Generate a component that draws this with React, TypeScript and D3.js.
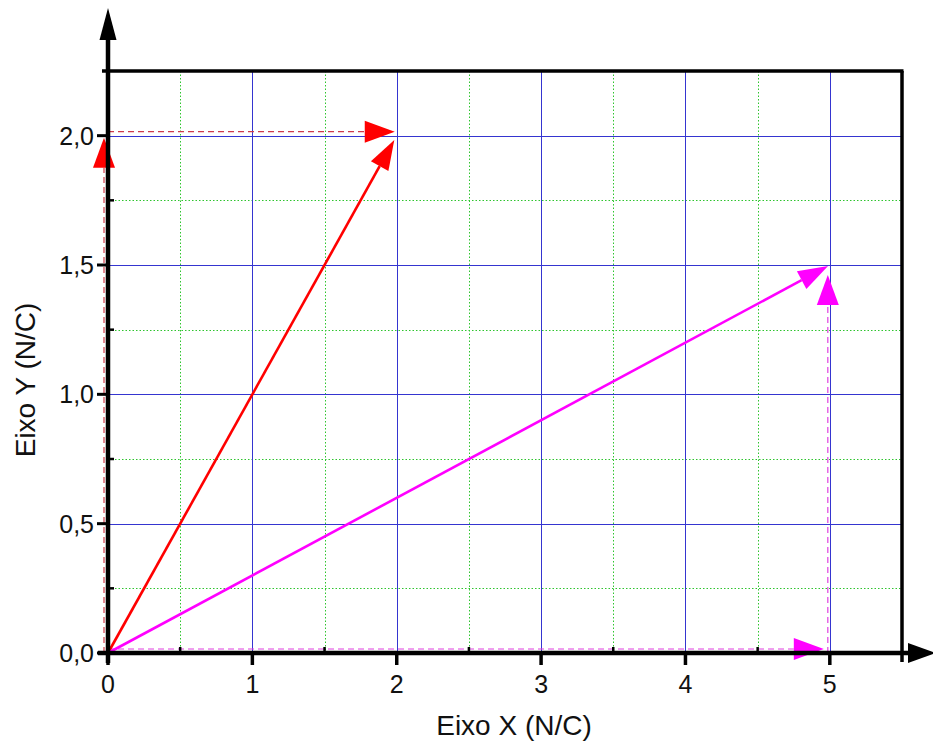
import React from 'react';
import * as d3 from 'd3';

// ---- data ----
const xDomain: [number, number] = [0, 5.5];
const yDomain: [number, number] = [0, 2.25];
const xMajorTicks = [0, 1, 2, 3, 4, 5];
const xTickLabels = ['0', '1', '2', '3', '4', '5'];
const yMajorTicks = [0, 0.5, 1.0, 1.5, 2.0];
const yTickLabels = ['0,0', '0,5', '1,0', '1,5', '2,0'];
const xMinorGrid = [0.5, 1.5, 2.5, 3.5, 4.5];
const yMinorGrid = [0.25, 0.75, 1.25, 1.75];
const xGridMajor = [1, 2, 3, 4, 5];
const yGridMajor = [0.5, 1.0, 1.5, 2.0];
const vectorColors = ['#ff0000', '#ff00ff'];
const vectorX = [2, 5];
const vectorY = [2, 1.5];
// component vectors: [x1, y1, x2, y2]
const redComponents = [
  [0, 0, 0, 2],
  [0, 2, 2, 2],
];
const magentaComponents = [
  [0, 0, 5, 0],
  [5, 0, 5, 1.5],
];
const componentDashColors = ['#d03a4a', '#e040e0'];
const xTitle = 'Eixo X (N/C)';
const yTitle = 'Eixo Y (N/C)';

const W = 933;
const H = 742;
const FONT = '"Liberation Sans", Arial, Helvetica, sans-serif';

function arrowHead(x1: number, y1: number, x2: number, y2: number, len: number, wid: number, shrink: number) {
  const dx = x2 - x1;
  const dy = y2 - y1;
  const d = Math.hypot(dx, dy);
  const ux = dx / d;
  const uy = dy / d;
  const tx = x2 - ux * shrink;
  const ty = y2 - uy * shrink;
  const bx = tx - ux * len;
  const by = ty - uy * len;
  const px = -uy;
  const py = ux;
  const pts = [
    [tx, ty],
    [bx + px * wid / 2, by + py * wid / 2],
    [bx - px * wid / 2, by - py * wid / 2],
  ];
  return { pts: pts.map((p) => p.join(',')).join(' '), bx, by };
}

const px = (v: number) => Math.round(v) + 0.5;

export default function App() {
  const x = d3.scaleLinear().domain(xDomain).range([108, 902]);
  const y = d3.scaleLinear().domain(yDomain).range([653, 71]);
  const x0 = x(0);
  const y0 = y(0);
  const xR = x(xDomain[1]);
  const yT = y(yDomain[1]);

  const comps = [redComponents, magentaComponents];

  return (
    <svg width={W} height={H} style={{ position: 'absolute', left: 0, top: 0, background: '#fff' }}>
      <rect x={0} y={0} width={W} height={H} fill="#fff" />
      {/* minor grid */}
      <g stroke="#2ec52e" strokeWidth={1} strokeDasharray="1.5,2">
        {xMinorGrid.map((v) => (
          <line key={'xm' + v} x1={px(x(v))} x2={px(x(v))} y1={yT} y2={y0} />
        ))}
        {yMinorGrid.map((v) => (
          <line key={'ym' + v} x1={x0} x2={xR} y1={px(y(v))} y2={px(y(v))} />
        ))}
      </g>
      {/* major grid */}
      <g stroke="#3535d0" strokeWidth={1}>
        {xGridMajor.map((v) => (
          <line key={'xg' + v} x1={px(x(v))} x2={px(x(v))} y1={yT} y2={y0} />
        ))}
        {yGridMajor.map((v) => (
          <line key={'yg' + v} x1={x0} x2={xR} y1={px(y(v))} y2={px(y(v))} />
        ))}
      </g>

      {/* component vectors */}
      {comps.map((list, ci) =>
        list.map((c, i) => {
          const horiz = c[1] === c[3];
          const ox = horiz ? 0 : ci === 0 ? -4 : -2;
          const oy = horiz ? -4 : 0;
          const X1 = x(c[0]) + ox;
          const Y1 = y(c[1]) + oy;
          const X2 = x(c[2]) + ox;
          const Y2 = y(c[3]) + oy;
          const ah = arrowHead(X1, Y1, X2, Y2, 30, 22, ci === 1 && horiz ? 6 : ci === 1 ? 10 : 2);
          return (
            <g key={'c' + ci + i}>
              <line
                x1={X1}
                y1={Y1}
                x2={ah.bx}
                y2={ah.by}
                stroke={componentDashColors[ci]}
                strokeWidth={1.2}
                strokeDasharray="6,4"
              />
              <polygon points={ah.pts} fill={vectorColors[ci]} />
            </g>
          );
        })
      )}

      {/* resultant vectors */}
      {vectorX.map((vx, i) => {
        const X1 = x(0);
        const Y1 = y(0);
        const X2 = x(vx);
        const Y2 = y(vectorY[i]);
        const ah = arrowHead(X1, Y1, X2, Y2, 30, 20, i === 0 ? 5 : 2);
        return (
          <g key={'v' + i}>
            <line x1={X1} y1={Y1} x2={ah.bx} y2={ah.by} stroke={vectorColors[i]} strokeWidth={2.6} />
            <polygon points={ah.pts} fill={vectorColors[i]} />
          </g>
        );
      })}

      {/* frame: top and right */}
      <line x1={x0 - 6} x2={xR + 1.5} y1={yT} y2={yT} stroke="#000" strokeWidth={3.5} />
      <line x1={xR} x2={xR} y1={yT} y2={y0 + 9} stroke="#000" strokeWidth={3.5} />

      {/* y axis */}
      <line x1={x0} x2={x0} y1={y0 + 10} y2={36} stroke="#000" strokeWidth={4.5} />
      <polygon points={`${x0},8 ${x0 - 8.5},40 ${x0 + 8.5},40`} fill="#000" />
      {/* x axis */}
      <line x1={x0 - 10} x2={912} y1={y0} y2={y0} stroke="#000" strokeWidth={4.5} />
      <polygon points={`${W + 3},${y0} ${908},${y0 - 10} ${908},${y0 + 10}`} fill="#000" />

      {/* y ticks */}
      {yMajorTicks.map((v) => (
        <line key={'yt' + v} x1={x0 - 11} x2={x0} y1={y(v)} y2={y(v)} stroke="#000" strokeWidth={3} />
      ))}
      {yMinorGrid.map((v) => (
        <line key={'ymt' + v} x1={x0} x2={x0 + 6} y1={y(v)} y2={y(v)} stroke="#000" strokeWidth={2.5} />
      ))}
      {/* x ticks */}
      {xMajorTicks.map((v) => (
        <line key={'xt' + v} x1={x(v)} x2={x(v)} y1={y0} y2={y0 + 12} stroke="#000" strokeWidth={3.5} />
      ))}
      {xMinorGrid.map((v) => (
        <line key={'xmt' + v} x1={x(v)} x2={x(v)} y1={y0} y2={y0 - 6} stroke="#000" strokeWidth={2.5} />
      ))}

      {/* tick labels */}
      <g fontFamily={FONT} fontSize={25} fill="#111">
        {yMajorTicks.map((v, i) => (
          <text key={'yl' + v} x={94} y={y(v)} textAnchor="end" dominantBaseline="central">
            {yTickLabels[i]}
          </text>
        ))}
        {xMajorTicks.map((v, i) => (
          <text key={'xl' + v} x={x(v)} y={693} textAnchor="middle">
            {xTickLabels[i]}
          </text>
        ))}
      </g>

      {/* axis titles */}
      <text x={514} y={735} textAnchor="middle" fontFamily={FONT} fontSize={28} fill="#111">
        {xTitle}
      </text>
      <text
        transform={`translate(35, 380) rotate(-90)`}
        textAnchor="middle"
        fontFamily={FONT}
        fontSize={28}
        fill="#111"
      >
        {yTitle}
      </text>
    </svg>
  );
}
